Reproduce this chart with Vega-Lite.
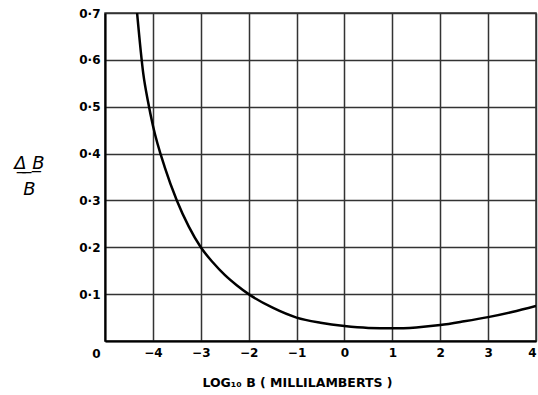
{
  "$schema": "https://vega.github.io/schema/vega-lite/v6.json",
  "width": 431,
  "height": 328,
  "autosize": {"type": "none"},
  "padding": {"left": 105, "top": 13, "right": 2, "bottom": 54},
  "background": "white",
  "config": {
    "view": {"stroke": "#333", "strokeWidth": 1.5},
    "font": "DejaVu Sans"
  },
  "data": {
    "values": [
      {"logB": -4.33, "dB": 0.70},
      {"logB": -4.20, "dB": 0.57},
      {"logB": -4.10, "dB": 0.51},
      {"logB": -4.00, "dB": 0.46},
      {"logB": -3.75, "dB": 0.37},
      {"logB": -3.50, "dB": 0.30},
      {"logB": -3.25, "dB": 0.244},
      {"logB": -3.00, "dB": 0.20},
      {"logB": -2.75, "dB": 0.168},
      {"logB": -2.50, "dB": 0.141},
      {"logB": -2.25, "dB": 0.119},
      {"logB": -2.00, "dB": 0.10},
      {"logB": -1.50, "dB": 0.071},
      {"logB": -1.00, "dB": 0.050},
      {"logB": -0.50, "dB": 0.039},
      {"logB": 0.00, "dB": 0.032},
      {"logB": 0.50, "dB": 0.028},
      {"logB": 1.00, "dB": 0.027},
      {"logB": 1.50, "dB": 0.029},
      {"logB": 2.00, "dB": 0.034},
      {"logB": 2.50, "dB": 0.042},
      {"logB": 3.00, "dB": 0.051},
      {"logB": 3.50, "dB": 0.062},
      {"logB": 4.00, "dB": 0.075}
    ]
  },
  "mark": {"type": "line", "color": "black", "strokeWidth": 2.5, "interpolate": "monotone", "clip": true},
  "encoding": {
    "x": {
      "field": "logB",
      "type": "quantitative",
      "scale": {"domain": [-5, 4], "nice": false, "zero": false},
      "axis": {
        "values": [-5, -4, -3, -2, -1, 0, 1, 2, 3, 4],
        "labelExpr": "datum.value == -5 ? '' : (datum.value < 0 ? '−' + abs(datum.value) : datum.label)",
        "grid": true,
        "gridColor": "#333",
        "gridWidth": 1.5,
        "gridOpacity": 1,
        "domainColor": "black",
        "domainWidth": 2,
        "ticks": false,
        "labelPadding": 6,
        "labelFontSize": 12,
        "labelFontWeight": "bold",
        "labelColor": "black",
        "title": "LOG₁₀ B ( MILLILAMBERTS )",
        "titleFontSize": 12.5,
        "titleFontWeight": "bold",
        "titleColor": "black",
        "titleX": 192,
        "titleY": 41,
        "titleBaseline": "middle"
      }
    },
    "y": {
      "field": "dB",
      "type": "quantitative",
      "scale": {"domain": [0, 0.7], "nice": false},
      "axis": {
        "values": [0, 0.1, 0.2, 0.3, 0.4, 0.5, 0.6, 0.7],
        "labelExpr": "datum.value == 0 ? '0' : replace(format(datum.value, '.1f'), '.', '·')",
        "labelOffset": {"expr": "datum.value == 0 ? 12 : 0"},
        "grid": true,
        "gridColor": "#333",
        "gridWidth": 1.5,
        "gridOpacity": 1,
        "domainColor": "black",
        "domainWidth": 2,
        "ticks": false,
        "labelPadding": 5,
        "labelFontSize": 12,
        "labelFontWeight": "bold",
        "labelColor": "black",
        "title": ["Δ̲ ̲B̲", "B"],
        "titleAngle": 0,
        "titleFontSize": 18,
        "titleFontStyle": "italic",
        "titleFontWeight": "normal",
        "titleColor": "black",
        "titleLineHeight": 26,
        "titleAlign": "center",
        "titleBaseline": "middle",
        "titleX": -76,
        "titleY": 150
      }
    }
  }
}
